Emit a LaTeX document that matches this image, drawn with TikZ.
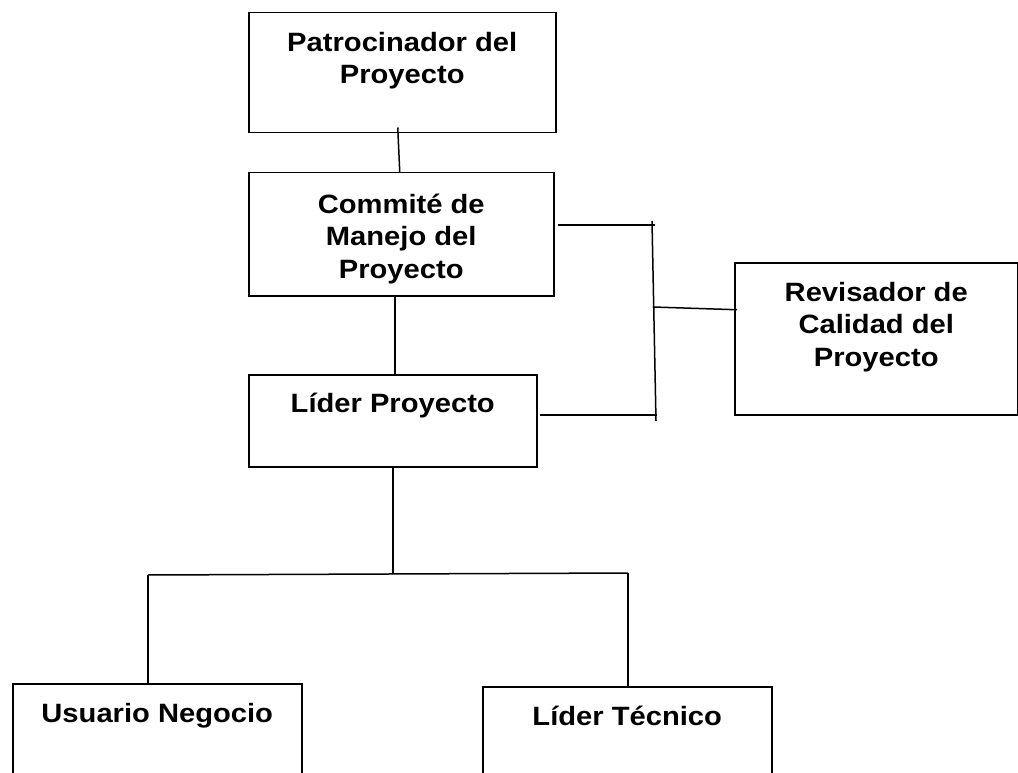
\documentclass[tikz,border=0pt]{standalone}
\usepackage{fontspec}
\setmainfont{Liberation Sans}[FakeStretch=1.1]
\usetikzlibrary{positioning}
\newcommand{\tstrut}{\rule{0pt}{26pt}}

\begin{document}
\begin{tikzpicture}[x=1pt,y=-1pt]
        \tikzstyle{role}=[rectangle,draw=black,line width=1.5pt,inner sep=0pt,anchor=north west]
        \tikzstyle{roletext}=[inner sep=0pt,align=center,font=\bfseries\fontsize{26.5}{32.5}\selectfont]
        \tikzstyle{link}=[draw=black,line width=1.5pt]

        \fill[white] (0,0) rectangle (1018,773);
        \clip (0,0) rectangle (1018,773);

        \begin{scope}

            \node [role, minimum width=307pt, minimum height=120pt] (pat) at (248,12)  {};
            \node [role, minimum width=305pt, minimum height=123pt] (com) at (248,172) {};
            \node [role, minimum width=288pt, minimum height=92pt]  (lid) at (248,374) {};
            \node [role, minimum width=283pt, minimum height=152pt] (rev) at (734,262) {};
            \node [role, minimum width=289pt, minimum height=120pt] (usu) at (12,683)  {};
            \node [role, minimum width=289pt, minimum height=120pt] (tec) at (482,686) {};

            \node [roletext, below=13pt of pat.north] (pat-t) {\tstrut Patrocinador del\\Proyecto};
            \node [roletext, below=15pt of com.north] (com-t) {\tstrut Commité de\\Manejo del\\Proyecto};
            \node [roletext, below=12pt of lid.north] (lid-t) {\tstrut Líder Proyecto};
            \node [roletext, below=13pt of rev.north] (rev-t) {\tstrut Revisador de\\Calidad del\\Proyecto};
            \node [roletext, below=13pt of usu.north] (usu-t) {\tstrut Usuario Negocio};
            \node [roletext, below=13pt of tec.north] (tec-t) {\tstrut Líder Técnico};

            % lines between the boxes
            \coordinate (rq-top) at (652,221);
            \coordinate (rq-bot) at (656,421);
            \coordinate (rq-1) at (655,225);
            \coordinate (rq-2) at (653,307);
            \coordinate (rq-3) at (657,415);
            \coordinate (bus-l) at (148,575);
            \coordinate (bus-r) at (628,573);

            \path[link] ([xshift=-4.5pt,yshift=6pt]pat.south) -- ([xshift=-1.5pt]com.north);
            \path[link] ([xshift=2pt]lid.north) -- ([xshift=2pt]lid.north |- com.south);

            \path[link] (com.east |- rq-1) ++(3,0) -- (rq-1);
            \path[link] (rq-top) -- (rq-bot);
            \path[link] (rq-2) -- ([xshift=3pt,yshift=29pt]rev.west);
            \path[link] (lid.east |- rq-3) ++(2,0) -- (rq-3);

            \path[link] (lid.south) -- (lid.south |- bus-r);
            \path[link] (bus-l) -- (bus-r);
            \path[link] (bus-l) -- (bus-l |- usu.north);
            \path[link] (bus-r) -- (bus-r |- tec.north);

        \end{scope}
\end{tikzpicture}
\end{document}
